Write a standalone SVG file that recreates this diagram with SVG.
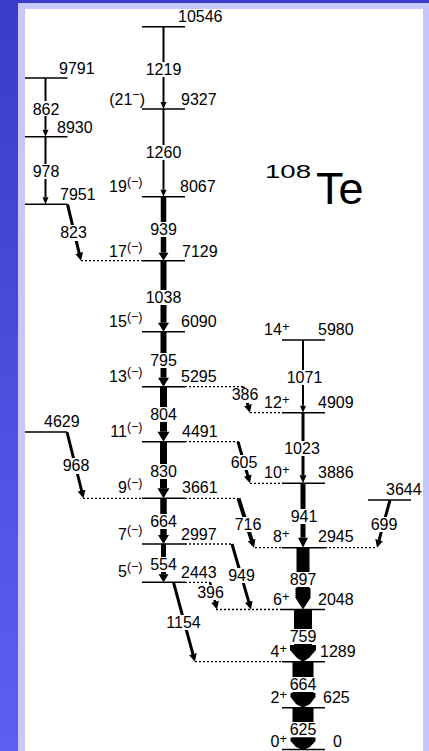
<svg xmlns="http://www.w3.org/2000/svg" width="429" height="751" viewBox="0 0 429 751">
<defs>
<linearGradient id="bgg" x1="0" y1="0" x2="0" y2="1">
<stop offset="0" stop-color="#3b3bc9"/>
<stop offset="1" stop-color="#5e5ef2"/>
</linearGradient>
<marker id="ah" markerUnits="userSpaceOnUse" markerWidth="8" markerHeight="8" refX="2" refY="4" orient="auto"><path d="M0,0 L8,4 L0,8 z" fill="#000"/></marker>
</defs>
<style>
.lv{stroke:#000;stroke-width:1.4;fill:none}
.dt{stroke:#000;stroke-width:1.3;stroke-dasharray:2 2;fill:none}
.t{font-family:"Liberation Sans",Arial,Helvetica,sans-serif;font-size:16px;fill:#000}
.c{text-anchor:middle}
.e{text-anchor:end}
.sl{stroke:#000;stroke-width:3;fill:none;marker-end:url(#ah)}
.wb{fill:#fff}
.sup{font-size:12.5px}
.sp{font-size:13px}
</style>
<rect width="429" height="751" fill="url(#bgg)"/>
<rect x="18" y="3" width="411" height="748" fill="#c7c7fb"/>
<rect x="25" y="9" width="398" height="742" fill="#fff"/>

<g id="connectors">
<path class="dt" d="M81,260.7H142 M185,386.7H243 M250,412.7H282 M185,441.7H238 M250,483.3H282 M83,498.3H142 M185,498.3H238 M185,544H232 M255,547.7H282 M325,547.7H377 M185,582.3H210 M216,609.5H282 M195,661.7H282"/>
<rect x="162.5" y="26.7" width="2" height="75.3"/><polygon points="160.5,102 166.5,102 163.5,109"/>
<rect x="162.5" y="109" width="2" height="80.7"/><polygon points="160.5,189.7 166.5,189.7 163.5,196.7"/>
<rect x="160.75" y="196.7" width="5.5" height="56"/><polygon points="158.5,252.7 168.5,252.7 163.5,260.7"/>
<rect x="160.5" y="260.7" width="6" height="62"/><polygon points="158,322.7 169,322.7 163.5,331.7"/>
<rect x="160.5" y="331.7" width="6" height="46"/><polygon points="158,377.7 169,377.7 163.5,386.7"/>
<rect x="160" y="386.7" width="7" height="45"/><polygon points="157.5,431.7 169.5,431.7 163.5,441.7"/>
<rect x="160" y="441.7" width="7" height="46.6"/><polygon points="157.5,488.3 169.5,488.3 163.5,498.3"/>
<rect x="160.25" y="498.3" width="6.5" height="36.7"/><polygon points="158,535 169,535 163.5,544"/>
<rect x="161" y="544" width="5" height="30.3"/><polygon points="158.5,574.3 168.5,574.3 163.5,582.3"/>
<rect x="302" y="340" width="2" height="65.7"/><polygon points="300,405.7 306,405.7 303,412.7"/>
<rect x="301.5" y="412.7" width="3" height="62.6"/><polygon points="299.5,475.3 306.5,475.3 303,483.3"/>
<rect x="300.5" y="483.3" width="5" height="54.4"/><polygon points="298,537.7 308,537.7 303,547.7"/>
<rect x="296.5" y="547.7" width="13" height="40.3"/><polygon points="295.5,588 310.5,588 310.5,598 303,609.5 295.5,598"/>
<rect x="294" y="609.5" width="18" height="35.5"/><polygon points="290,645 316,645 316,650 309,658 303,661.7 297,658 290,650"/>
<rect x="292.5" y="661.7" width="21" height="31.3"/><polygon points="290.5,693 315.5,693 315.5,697 310,704 303,707.7 296,704 290.5,697"/>
<rect x="292.5" y="707.7" width="21" height="29.8"/><polygon points="290.5,737.5 315.5,737.5 315.5,741 310,747 303,750 296,747 290.5,741"/>
<rect x="44.5" y="78" width="2" height="51.7"/><polygon points="42.5,129.7 48.5,129.7 45.5,136.7"/>
<rect x="44.5" y="136.7" width="2" height="60.6"/><polygon points="42.5,197.3 48.5,197.3 45.5,204.3"/>
<line class="sl" x1="67.5" y1="204.3" x2="79.6" y2="254.9"/>
<line class="sl" x1="67" y1="432" x2="82.05" y2="492.5"/>
<line class="sl" x1="243" y1="386.7" x2="248.4" y2="406.9"/>
<line class="sl" x1="238" y1="441.7" x2="248.3" y2="477.5"/>
<line class="sl" style="stroke-width:4" x1="238.5" y1="498.3" x2="252.2" y2="542"/>
<line class="sl" x1="232" y1="544" x2="249.3" y2="603.7"/>
<line class="sl" style="stroke-width:2.5" x1="210" y1="582.3" x2="215.5" y2="603.7"/>
<line class="sl" x1="173.5" y1="582.3" x2="193.4" y2="655.9"/>
<line class="sl" x1="390" y1="500" x2="378.6" y2="541.9"/>
<rect class="wb" x="145" y="62" width="37" height="15"/>
<rect class="wb" x="144" y="145" width="39" height="15"/>
<rect class="wb" x="148" y="222" width="31" height="15"/>
<rect class="wb" x="144" y="290" width="39" height="15"/>
<rect class="wb" x="148" y="353" width="31" height="15"/>
<rect class="wb" x="147" y="407" width="33" height="15"/>
<rect class="wb" x="147" y="464" width="33" height="15"/>
<rect class="wb" x="147" y="514" width="33" height="15"/>
<rect class="wb" x="147" y="557" width="33" height="15"/>
<rect class="wb" x="285" y="370" width="39" height="15"/>
<rect class="wb" x="282" y="441" width="40" height="15"/>
<rect class="wb" x="288" y="509" width="32" height="15"/>
<rect class="wb" x="286" y="572" width="34" height="15"/>
<rect class="wb" x="285" y="629" width="36" height="15"/>
<rect class="wb" x="285" y="677" width="36" height="15"/>
<rect class="wb" x="285" y="722" width="36" height="15"/>
<rect class="wb" x="29" y="101" width="34" height="15"/>
<rect class="wb" x="29" y="164" width="34" height="15"/>
<rect class="wb" x="56" y="225" width="35" height="16"/>
<rect class="wb" x="59" y="458" width="34" height="16"/>
<rect class="wb" x="228" y="388" width="34" height="15"/>
<rect class="wb" x="227" y="455" width="34" height="15"/>
<rect class="wb" x="233" y="517" width="30" height="15"/>
<rect class="wb" x="224" y="568" width="35" height="15"/>
<rect class="wb" x="194" y="585" width="33" height="15"/>
<rect class="wb" x="164" y="615" width="39" height="15"/>
<rect class="wb" x="367" y="517" width="34" height="15"/>
<g class="t c">
<text x="163.5" y="75">1219</text>
<text x="163.5" y="158">1260</text>
<text x="163.5" y="235">939</text>
<text x="163.5" y="303">1038</text>
<text x="163.5" y="366">795</text>
<text x="163.5" y="420">804</text>
<text x="163.5" y="477">830</text>
<text x="163.5" y="527">664</text>
<text x="163.5" y="570">554</text>
<text x="304.5" y="383">1071</text>
<text x="302" y="454">1023</text>
<text x="304" y="522">941</text>
<text x="303" y="585">897</text>
<text x="303" y="642">759</text>
<text x="303" y="690">664</text>
<text x="303" y="735">625</text>
<text x="46" y="115">862</text>
<text x="46" y="177">978</text>
<text x="73.5" y="238">823</text>
<text x="76" y="471">968</text>
<text x="245" y="400">386</text>
<text x="244" y="468">605</text>
<text x="248" y="530">716</text>
<text x="241.5" y="581">949</text>
<text x="210.5" y="598">396</text>
<text x="183.5" y="628">1154</text>
<text x="384" y="530">699</text>
</g>
</g>

<g id="lv10546"><path class="lv" d="M142,26.7H185"/><text class="t" x="178" y="22">10546</text></g>
<g id="lv9791"><path class="lv" d="M25,78H67.5"/><text class="t" x="59" y="74">9791</text></g>
<g id="lv9327"><path class="lv" d="M142,109H185"/><text class="t" x="181" y="105">9327</text><text class="t e" x="145" y="105">(21<tspan class="sup" dy="-6">−</tspan><tspan dy="6">)</tspan></text></g>
<g id="lv8930"><path class="lv" d="M25,136.7H67.5"/><text class="t" x="57" y="133">8930</text></g>
<g id="lv8067"><path class="lv" d="M142,196.7H185"/><text class="t" x="180" y="192">8067</text><text class="t e" x="142.5" y="192">19<tspan class="sup" dy="-6">(−)</tspan></text></g>
<g id="lv7951"><path class="lv" d="M25,204.3H67.5"/><text class="t" x="60" y="200">7951</text></g>
<g id="lv7129"><path class="lv" d="M142,260.7H185"/><text class="t" x="182" y="257">7129</text><text class="t e" x="142.5" y="257">17<tspan class="sup" dy="-6">(−)</tspan></text></g>
<g id="lv6090"><path class="lv" d="M142,331.7H185"/><text class="t" x="181" y="327">6090</text><text class="t e" x="142.5" y="327">15<tspan class="sup" dy="-6">(−)</tspan></text></g>
<g id="lv5295"><path class="lv" d="M142,386.7H185"/><text class="t" x="181" y="382">5295</text><text class="t e" x="142.5" y="382">13<tspan class="sup" dy="-6">(−)</tspan></text></g>
<g id="lv4629"><path class="lv" d="M25,432H67"/><text class="t" x="44" y="427">4629</text></g>
<g id="lv4491"><path class="lv" d="M142,441.7H185"/><text class="t" x="182" y="437">4491</text><text class="t e" x="142.5" y="437">11<tspan class="sup" dy="-6">(−)</tspan></text></g>
<g id="lv3661"><path class="lv" d="M142,498.3H185"/><text class="t" x="182" y="493">3661</text><text class="t e" x="142.5" y="493">9<tspan class="sup" dy="-6">(−)</tspan></text></g>
<g id="lv2997"><path class="lv" d="M142,544H185"/><text class="t" x="181" y="540">2997</text><text class="t e" x="142.5" y="540">7<tspan class="sup" dy="-6">(−)</tspan></text></g>
<g id="lv2443"><path class="lv" d="M142,582.3H185"/><text class="t" x="181" y="578">2443</text><text class="t e" x="142.5" y="577">5<tspan class="sup" dy="-6">(−)</tspan></text></g>

<g id="lv5980"><path class="lv" d="M282,340H325"/><text class="t" x="318" y="335">5980</text><text class="t e" x="289.5" y="335">14<tspan class="sp" dy="-4">+</tspan></text></g>
<g id="lv4909"><path class="lv" d="M282,412.7H325"/><text class="t" x="318" y="408">4909</text><text class="t e" x="289.5" y="408">12<tspan class="sp" dy="-4">+</tspan></text></g>
<g id="lv3886"><path class="lv" d="M282,483.3H325"/><text class="t" x="318" y="478">3886</text><text class="t e" x="289.5" y="478">10<tspan class="sp" dy="-4">+</tspan></text></g>
<g id="lv3644"><path class="lv" d="M368,500H411"/><text class="t" x="386" y="495">3644</text></g>
<g id="lv2945"><path class="lv" d="M282,547.7H325"/><text class="t" x="318" y="542">2945</text><text class="t e" x="289.5" y="542">8<tspan class="sp" dy="-4">+</tspan></text></g>
<g id="lv2048"><path class="lv" d="M282,609.5H325"/><text class="t" x="318" y="605">2048</text><text class="t e" x="289.5" y="605">6<tspan class="sp" dy="-4">+</tspan></text></g>
<g id="lv1289"><path class="lv" d="M282,661.7H325"/><text class="t" x="320" y="657">1289</text><text class="t e" x="287" y="657">4<tspan class="sp" dy="-4">+</tspan></text></g>
<g id="lv625"><path class="lv" d="M282,707.7H325"/><text class="t" x="323" y="703">625</text><text class="t e" x="287" y="703">2<tspan class="sp" dy="-4">+</tspan></text></g>
<g id="lv0"><path class="lv" d="M282,749.5H325"/><text class="t" x="333" y="747">0</text><text class="t e" x="287" y="747">0<tspan class="sp" dy="-4">+</tspan></text></g>

<g id="title"><text class="t" style="font-size:19px" x="265" y="178" textLength="46" lengthAdjust="spacingAndGlyphs">108</text><text class="t" style="font-size:45px" x="316" y="204">Te</text></g>
</svg>
